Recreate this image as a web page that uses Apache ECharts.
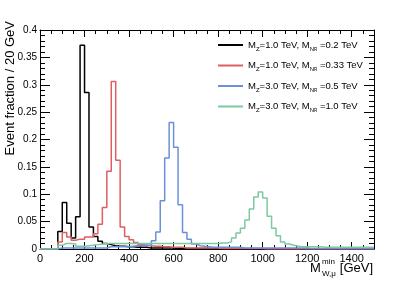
<!DOCTYPE html>
<html><head><meta charset="utf-8">
<script src="https://cdn.jsdelivr.net/npm/echarts@6/dist/echarts.min.js"></script>
<style>html,body{margin:0;padding:0;background:#fff}#c{width:415px;height:283px}</style>
</head><body><div id="c"></div>
<script>
// Histogram bins: 20 GeV wide, starting at 0 GeV (75 bins to 1500 GeV)
const binWidth = 20;
const xMin = 0, xMax = 1500;
const yMin = 0, yMax = 0.4;

const seriesNames = [
  'MZ=1.0 TeV, MNR=0.2 TeV',
  'MZ=1.0 TeV, MNR=0.33 TeV',
  'MZ=3.0 TeV, MNR=0.5 TeV',
  'MZ=3.0 TeV, MNR=1.0 TeV'
];

const hBlack = [
  0, 0, 0, 0, 0.032, 0.085, 0.047, 0.020, 0.059, 0.372,
  0.286, 0.040, 0.023, 0.014, 0.010, 0.008, 0.006, 0.005, 0.005, 0.004,
  0.004, 0.003, 0.003, 0.003, 0.002, 0.002, 0.002, 0.002, 0.002, 0.002,
  0.001, 0.001, 0.001, 0.001, 0.001, 0.001, 0.001, 0.001, 0.001, 0.001,
  0, 0, 0, 0, 0, 0, 0, 0, 0, 0,
  0, 0, 0, 0, 0, 0, 0, 0, 0, 0,
  0, 0, 0, 0, 0, 0, 0, 0, 0, 0,
  0, 0, 0, 0, 0
];
const hRed = [
  0, 0, 0, 0, 0.013, 0.030, 0.022, 0.016, 0.018, 0.018,
  0.022, 0.022, 0.028, 0.045, 0.076, 0.142, 0.306, 0.162, 0.040, 0.023,
  0.017, 0.012, 0.008, 0.007, 0.006, 0.005, 0.005, 0.004, 0.004, 0.003,
  0.003, 0.003, 0.002, 0.002, 0.002, 0.002, 0.002, 0.002, 0.002, 0.002,
  0.001, 0.001, 0.001, 0.001, 0.001, 0.001, 0.001, 0.001, 0.001, 0.001,
  0, 0, 0, 0, 0, 0, 0, 0, 0, 0,
  0, 0, 0, 0, 0, 0, 0, 0, 0, 0,
  0, 0, 0, 0, 0
];
const hBlue = [
  0, 0, 0, 0, 0.002, 0.002, 0.002, 0.002, 0.002, 0.002,
  0.002, 0.002, 0.002, 0.002, 0.002, 0.004, 0.004, 0.004, 0.004, 0.004,
  0.005, 0.006, 0.006, 0.007, 0.007, 0.015, 0.031, 0.088, 0.166, 0.231,
  0.186, 0.081, 0.030, 0.018, 0.009, 0.006, 0.005, 0.004, 0.003, 0.003,
  0.003, 0.003, 0.003, 0.003, 0.003, 0.002, 0.002, 0.002, 0.002, 0.002,
  0.002, 0.002, 0.002, 0.002, 0.002, 0.002, 0.002, 0.002, 0.002, 0.002,
  0.001, 0.001, 0.001, 0.001, 0.001, 0.001, 0.001, 0.001, 0.001, 0.001,
  0.001, 0.001, 0.001, 0.001, 0.001
];
const hGreen = [
  0, 0, 0, 0, 0.007, 0.010, 0.010, 0.009, 0.005, 0.005,
  0.006, 0.007, 0.008, 0.009, 0.010, 0.010, 0.010, 0.010, 0.010, 0.010,
  0.010, 0.010, 0.010, 0.010, 0.010, 0.010, 0.010, 0.010, 0.010, 0.010,
  0.010, 0.010, 0.010, 0.010, 0.010, 0.010, 0.010, 0.010, 0.010, 0.010,
  0.011, 0.011, 0.013, 0.020, 0.029, 0.038, 0.053, 0.073, 0.095, 0.104,
  0.093, 0.060, 0.038, 0.024, 0.013, 0.009, 0.007, 0.005, 0.004, 0.004,
  0.004, 0.004, 0.004, 0.003, 0.003, 0.003, 0.003, 0.003, 0.003, 0.003,
  0.003, 0.003, 0.003, 0.003, 0.003
];

const colors = ['#000000', '#de5f62', '#6b8fda', '#7cc8a0'];
const legendRich = [
  '{t|M}{s|Z}{t|=1.0 TeV, M}{s|N}{ss|R}{t| =0.2 TeV}',
  '{t|M}{s|Z}{t|=1.0 TeV, M}{s|N}{ss|R}{t| =0.33 TeV}',
  '{t|M}{s|Z}{t|=3.0 TeV, M}{s|N}{ss|R}{t| =0.5 TeV}',
  '{t|M}{s|Z}{t|=3.0 TeV, M}{s|N}{ss|R}{t| =1.0 TeV}'
];

function toSteps(vals) {
  const pts = vals.map((v, i) => [xMin + i * binWidth, v]);
  pts.push([xMin + vals.length * binWidth, vals[vals.length - 1]]);
  return pts;
}

const FONT = "'Liberation Sans', Arial, Helvetica, sans-serif";
const chart = echarts.init(document.getElementById('c'), null, {renderer: 'canvas'});

const hists = [hBlack, hRed, hBlue, hGreen];
const series = hists.map((h, k) => ({
  name: seriesNames[k],
  type: 'line',
  step: 'end',
  symbol: 'none',
  data: toSteps(h),
  xAxisIndex: 0,
  yAxisIndex: 0,
  lineStyle: {color: colors[k], width: 1.5},
  itemStyle: {color: colors[k]},
  animation: false,
  z: 2 + k
}));

const axisCommon = {
  axisLine: {show: true, onZero: false, lineStyle: {color: '#000', width: 1}},
  splitLine: {show: false}
};

chart.setOption({
  animation: false,
  backgroundColor: '#fff',
  grid: {left: 40, right: 41, top: 30, bottom: 34, containLabel: false},
  legend: {
    orient: 'vertical',
    left: 213,
    top: 35,
    itemWidth: 25,
    itemHeight: 2,
    itemGap: 8.5,
    icon: 'rect',
    data: seriesNames.map((n, k) => ({name: n, icon: 'rect', itemStyle: {color: colors[k], borderWidth: 0}})),
    formatter: function (name) { return legendRich[seriesNames.indexOf(name)]; },
    textStyle: {
      fontFamily: FONT,
      color: '#000',
      rich: {
        t: {fontSize: 9.5, lineHeight: 14, fontFamily: FONT, color: '#000'},
        s: {fontSize: 6, lineHeight: 9, verticalAlign: 'bottom', fontFamily: FONT, color: '#000'},
        ss: {fontSize: 4.5, lineHeight: 5, verticalAlign: 'bottom', fontFamily: FONT, color: '#000'}
      }
    }
  },
  xAxis: [
    Object.assign({
      type: 'value', min: xMin, max: xMax, interval: 200, position: 'bottom',
      axisTick: {show: true, inside: true, length: 7, lineStyle: {color: '#000'}},
      minorTick: {show: true, splitNumber: 4, length: 4, lineStyle: {color: '#000'}},
      axisLabel: {show: true, showMaxLabel: false, margin: 4, fontSize: 11, fontFamily: FONT, color: '#000',
                  formatter: v => String(v)}
    }, axisCommon),
    Object.assign({
      type: 'value', min: xMin, max: xMax, interval: 200, position: 'top',
      axisTick: {show: true, inside: true, length: 7, lineStyle: {color: '#000'}},
      minorTick: {show: true, splitNumber: 4, length: 4, lineStyle: {color: '#000'}},
      axisLabel: {show: false}
    }, axisCommon)
  ],
  yAxis: [
    Object.assign({
      type: 'value', min: yMin, max: yMax, interval: 0.05, position: 'left',
      axisTick: {show: true, inside: true, length: 10, lineStyle: {color: '#000'}},
      minorTick: {show: true, splitNumber: 5, length: 5, lineStyle: {color: '#000'}},
      axisLabel: {show: true, margin: 3, fontSize: 10, fontFamily: FONT, color: '#000'}
    }, axisCommon),
    Object.assign({
      type: 'value', min: yMin, max: yMax, interval: 0.05, position: 'right',
      axisTick: {show: true, inside: true, length: 10, lineStyle: {color: '#000'}},
      minorTick: {show: true, splitNumber: 5, length: 5, lineStyle: {color: '#000'}},
      axisLabel: {show: false}
    }, axisCommon)
  ],
  graphic: [
    {type: 'text', x: 10, y: 21, rotation: Math.PI / 2,
     style: {text: 'Event fraction / 20 GeV', fontSize: 13, fontFamily: FONT, fill: '#000',
             align: 'right', verticalAlign: 'middle', textAlign: 'right', textVerticalAlign: 'middle'}},
    {type: 'text', x: 310, y: 268,
     style: {text: 'M', fontSize: 13, fontFamily: FONT, fill: '#000',
             align: 'left', verticalAlign: 'middle', textAlign: 'left', textVerticalAlign: 'middle'}},
    {type: 'text', x: 322, y: 261.5,
     style: {text: 'min', fontSize: 8, fontFamily: FONT, fill: '#000',
             align: 'left', verticalAlign: 'middle', textAlign: 'left', textVerticalAlign: 'middle'}},
    {type: 'text', x: 322, y: 273.5,
     style: {text: 'W,μ', fontSize: 8, fontFamily: FONT, fill: '#000',
             align: 'left', verticalAlign: 'middle', textAlign: 'left', textVerticalAlign: 'middle'}},
    {type: 'text', x: 373, y: 268,
     style: {text: '[GeV]', fontSize: 13, fontFamily: FONT, fill: '#000',
             align: 'right', verticalAlign: 'middle', textAlign: 'right', textVerticalAlign: 'middle'}}
  ],
  series: series
});
</script>
</body></html>
